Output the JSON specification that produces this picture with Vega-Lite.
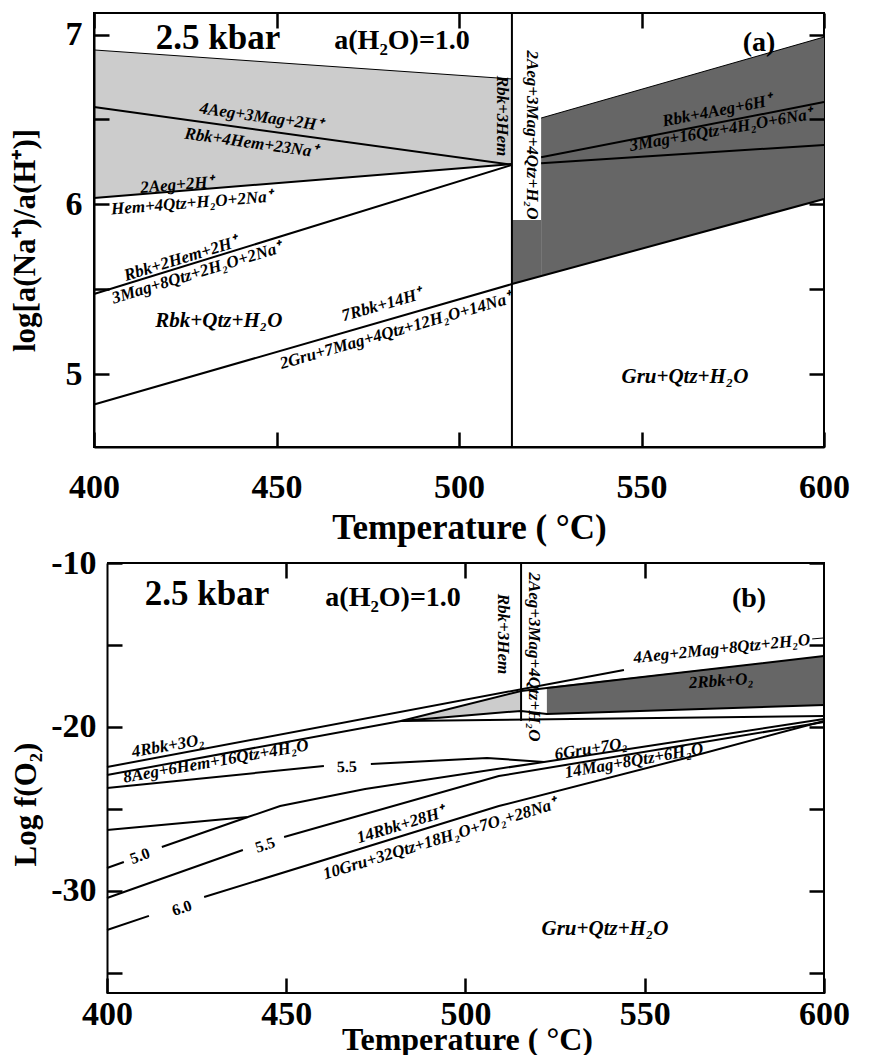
{
  "$schema": "https://vega.github.io/schema/vega-lite/v6.json",
  "background": "white",
  "padding": {"left": 8, "top": 8, "right": 10, "bottom": 0},
  "columns": 1,
  "align": "all",
  "bounds": "full",
  "spacing": 0,
  "config": {
    "view": {"stroke": "black", "strokeWidth": 2},
    "axis": {"labelFont": "Liberation Serif", "titleFont": "Liberation Serif"},
    "text": {"font": "Liberation Serif"}
  },
  "datasets": {
    "areasA": [
      {"id": "a_light", "cls": "light", "T": 400, "v": 6.909, "v2": 6.037},
      {"id": "a_light", "cls": "light", "T": 514.5, "v": 6.738, "v2": 6.237},
      {"id": "a_strip", "cls": "dark", "T": 514.5, "v": 5.907, "v2": 5.53},
      {"id": "a_strip", "cls": "dark", "T": 522.5, "v": 5.907, "v2": 5.577},
      {"id": "a_dark", "cls": "dark", "T": 522.5, "v": 6.508, "v2": 5.577},
      {"id": "a_dark", "cls": "dark", "T": 600, "v": 6.985, "v2": 6.031}
    ],
    "linesA": [
      {"id": "top", "cls": "thin", "o": 0, "T": 400, "v": 6.909},
      {"id": "top", "cls": "thin", "o": 1, "T": 514.5, "v": 6.738},
      {"id": "darktop", "cls": "thin", "o": 0, "T": 522.5, "v": 6.508},
      {"id": "darktop", "cls": "thin", "o": 1, "T": 600, "v": 6.985},
      {"id": "aeg4", "cls": "main", "o": 0, "T": 400, "v": 6.573},
      {"id": "aeg4", "cls": "main", "o": 1, "T": 514.5, "v": 6.232},
      {"id": "aeg2", "cls": "main", "o": 0, "T": 400, "v": 6.037},
      {"id": "aeg2", "cls": "main", "o": 1, "T": 514.5, "v": 6.237},
      {"id": "rbk2hem", "cls": "main", "o": 0, "T": 400, "v": 5.471},
      {"id": "rbk2hem", "cls": "main", "o": 1, "T": 514.5, "v": 6.232},
      {"id": "rbk7", "cls": "main", "o": 0, "T": 400, "v": 4.82},
      {"id": "rbk7", "cls": "main", "o": 1, "T": 514.5, "v": 5.53},
      {"id": "rbk7", "cls": "main", "o": 2, "T": 600, "v": 6.031},
      {"id": "lineA", "cls": "main", "o": 0, "T": 522.5, "v": 6.277},
      {"id": "lineA", "cls": "main", "o": 1, "T": 600, "v": 6.602},
      {"id": "lineB", "cls": "main", "o": 0, "T": 522.5, "v": 6.242},
      {"id": "lineB", "cls": "main", "o": 1, "T": 600, "v": 6.349},
      {"id": "vert", "cls": "main", "o": 0, "T": 514.5, "v": 4.57},
      {"id": "vert", "cls": "main", "o": 1, "T": 514.5, "v": 7.1267}
    ],
    "textA": [
      {"kind": "big", "label": "2.5 kbar", "T": 434.0, "v": 6.982, "angle": 0},
      {"kind": "head", "label": "a(H₂O)=1.0", "T": 484.4, "v": 6.962, "angle": 0},
      {"kind": "head", "label": "(a)", "T": 582.2, "v": 6.95, "angle": 0},
      {"kind": "rxn", "label": "Rbk+3Hem", "T": 511.8, "v": 6.52, "angle": 90},
      {"kind": "rxn", "label": "2Aeg+3Mag+4Qtz+H₂O", "T": 520.0, "v": 6.408, "angle": 90},
      {"kind": "rxn", "label": "4Aeg+3Mag+2H⁺", "T": 445.75, "v": 6.514, "angle": 8},
      {"kind": "rxn", "label": "Rbk+4Hem+23Na⁺", "T": 443.0, "v": 6.361, "angle": 8},
      {"kind": "rxn", "label": "2Aeg+2H⁺", "T": 422.7, "v": 6.113, "angle": -4.6},
      {"kind": "rxn", "label": "Hem+4Qtz+H₂O+2Na⁺", "T": 426.8, "v": 6.007, "angle": -4.6},
      {"kind": "rxn", "label": "Rbk+2Hem+2H⁺", "T": 423.8, "v": 5.678, "angle": -17},
      {"kind": "rxn", "label": "3Mag+8Qtz+2H₂O+2Na⁺", "T": 428.2, "v": 5.595, "angle": -17},
      {"kind": "rxn", "label": "7Rbk+14H⁺", "T": 478.9, "v": 5.406, "angle": -16},
      {"kind": "rxn", "label": "2Gru+7Mag+4Qtz+12H₂O+14Na⁺", "T": 482.7, "v": 5.253, "angle": -16},
      {"kind": "rxn", "label": "Rbk+4Aeg+6H⁺", "T": 570.7, "v": 6.549, "angle": -11},
      {"kind": "rxn", "label": "3Mag+16Qtz+4H₂O+6Na⁺", "T": 571.8, "v": 6.437, "angle": -10},
      {"kind": "region", "label": "Rbk+Qtz+H₂O", "T": 434.2, "v": 5.312, "angle": 0},
      {"kind": "region", "label": "Gru+Qtz+H₂O", "T": 561.9, "v": 4.982, "angle": 0}
    ],
    "areasB": [
      {"id": "b_light", "cls": "light", "T": 482.0, "v": -19.63, "v2": -19.63},
      {"id": "b_light", "cls": "light", "T": 515.5, "v": -17.8, "v2": -19.02},
      {"id": "b_dark", "cls": "dark", "T": 522.7, "v": -17.56, "v2": -19.21},
      {"id": "b_dark", "cls": "dark", "T": 600, "v": -15.67, "v2": -18.66}
    ],
    "linesB": [
      {"id": "frame", "cls": "main", "o": 0, "T": 400, "v": -10},
      {"id": "frame", "cls": "main", "o": 1, "T": 600, "v": -10},
      {"id": "frame", "cls": "main", "o": 2, "T": 600, "v": -36.22},
      {"id": "frame", "cls": "main", "o": 3, "T": 400, "v": -36.22},
      {"id": "A1", "cls": "main", "o": 0, "T": 400, "v": -22.44},
      {"id": "A1", "cls": "main", "o": 1, "T": 544.2, "v": -16.52},
      {"id": "L2", "cls": "main", "o": 0, "T": 400, "v": -22.93},
      {"id": "L2", "cls": "main", "o": 1, "T": 482.0, "v": -19.63},
      {"id": "L2", "cls": "main", "o": 2, "T": 515.5, "v": -19.02},
      {"id": "L2", "cls": "main", "o": 3, "T": 522.7, "v": -19.21},
      {"id": "L2", "cls": "main", "o": 4, "T": 600, "v": -18.66},
      {"id": "L3", "cls": "main", "o": 0, "T": 482.0, "v": -19.63},
      {"id": "L3", "cls": "main", "o": 1, "T": 515.5, "v": -17.8},
      {"id": "L3", "cls": "main", "o": 2, "T": 600, "v": -15.67},
      {"id": "L5", "cls": "main", "o": 0, "T": 482.0, "v": -19.63},
      {"id": "L5", "cls": "main", "o": 1, "T": 600, "v": -19.33},
      {"id": "C55u1", "cls": "main", "o": 0, "T": 400, "v": -23.72},
      {"id": "C55u1", "cls": "main", "o": 1, "T": 460.5, "v": -22.38},
      {"id": "C55u2", "cls": "main", "o": 0, "T": 473.6, "v": -22.26},
      {"id": "C55u2", "cls": "main", "o": 1, "T": 506.0, "v": -21.89},
      {"id": "C55u2", "cls": "main", "o": 2, "T": 521.9, "v": -22.13},
      {"id": "G", "cls": "main", "o": 0, "T": 400, "v": -26.28},
      {"id": "G", "cls": "main", "o": 1, "T": 439.3, "v": -25.49},
      {"id": "G", "cls": "main", "o": 2, "T": 448.3, "v": -24.82},
      {"id": "G", "cls": "main", "o": 3, "T": 472.0, "v": -23.78},
      {"id": "G", "cls": "main", "o": 4, "T": 521.9, "v": -22.13},
      {"id": "G", "cls": "main", "o": 5, "T": 600, "v": -19.51},
      {"id": "C50a", "cls": "main", "o": 0, "T": 400, "v": -28.6},
      {"id": "C50a", "cls": "main", "o": 1, "T": 404.7, "v": -28.23},
      {"id": "C50b", "cls": "main", "o": 0, "T": 415.3, "v": -27.32},
      {"id": "C50b", "cls": "main", "o": 1, "T": 439.3, "v": -25.49},
      {"id": "C55La", "cls": "main", "o": 0, "T": 400, "v": -30.43},
      {"id": "C55La", "cls": "main", "o": 1, "T": 437.9, "v": -27.5},
      {"id": "C55Lb", "cls": "main", "o": 0, "T": 449.4, "v": -26.71},
      {"id": "C55Lb", "cls": "main", "o": 1, "T": 509.3, "v": -22.99},
      {"id": "C55Lb", "cls": "main", "o": 2, "T": 600, "v": -19.7},
      {"id": "C60a", "cls": "main", "o": 0, "T": 400, "v": -32.38},
      {"id": "C60a", "cls": "main", "o": 1, "T": 411.7, "v": -31.52},
      {"id": "C60b", "cls": "main", "o": 0, "T": 427.1, "v": -30.37},
      {"id": "C60b", "cls": "main", "o": 1, "T": 509.3, "v": -24.82},
      {"id": "C60b", "cls": "main", "o": 2, "T": 560.4, "v": -21.95},
      {"id": "C60b", "cls": "main", "o": 3, "T": 600, "v": -19.63},
      {"id": "stub", "cls": "thin", "o": 0, "T": 596.7, "v": -14.63},
      {"id": "stub", "cls": "thin", "o": 1, "T": 600, "v": -14.57},
      {"id": "vert", "cls": "main", "o": 0, "T": 515.5, "v": -10},
      {"id": "vert", "cls": "main", "o": 1, "T": 515.5, "v": -19.63}
    ],
    "textB": [
      {"kind": "big", "label": "2.5 kbar", "T": 427.9, "v": -11.89, "angle": 0},
      {"kind": "head", "label": "a(H₂O)=1.0", "T": 479.8, "v": -12.13, "angle": 0},
      {"kind": "head", "label": "(b)", "T": 579.1, "v": -12.2, "angle": 0},
      {"kind": "rxn", "label": "Rbk+3Hem", "T": 510.5, "v": -14.33, "angle": 90},
      {"kind": "rxn", "label": "2Aeg+3Mag+4Qtz+H₂O", "T": 519.1, "v": -15.73, "angle": 90},
      {"kind": "rxn", "label": "4Aeg+2Mag+8Qtz+2H₂O", "T": 571.5, "v": -15.24, "angle": -6},
      {"kind": "rxn", "label": "2Rbk+O₂", "T": 571.3, "v": -17.2, "angle": -4},
      {"kind": "rxn", "label": "4Rbk+3O₂", "T": 417.0, "v": -21.16, "angle": -10},
      {"kind": "rxn", "label": "8Aeg+6Hem+16Qtz+4H₂O", "T": 430.4, "v": -22.1, "angle": -10},
      {"kind": "rxn", "label": "6Gru+7O₂", "T": 535.0, "v": -21.34, "angle": -9},
      {"kind": "rxn", "label": "14Mag+8Qtz+6H₂O", "T": 547.0, "v": -22.07, "angle": -10},
      {"kind": "rxn", "label": "14Rbk+28H⁺", "T": 482.0, "v": -25.98, "angle": -17},
      {"kind": "rxn", "label": "10Gru+32Qtz+18H₂O+7O₂+28Na⁺", "T": 492.9, "v": -26.83, "angle": -17},
      {"kind": "contour", "label": "5.5", "T": 466.9, "v": -22.44, "angle": -2},
      {"kind": "contour", "label": "5.0", "T": 409.2, "v": -27.87, "angle": -20},
      {"kind": "contour", "label": "5.5", "T": 444.1, "v": -27.2, "angle": -18},
      {"kind": "contour", "label": "6.0", "T": 420.9, "v": -31.04, "angle": -18},
      {"kind": "region", "label": "Gru+Qtz+H₂O", "T": 538.9, "v": -32.32, "angle": 0}
    ]
  },
  "concat": [
    {
      "width": 730,
      "height": 434,
      "encoding": {
        "x": {"field": "T", "type": "quantitative", "scale": {"domain": [400, 600], "nice": false, "zero": false}, "axis": null},
        "y": {"field": "v", "type": "quantitative", "scale": {"domain": [4.57, 7.1267], "nice": false, "zero": false}, "axis": null}
      },
      "layer": [
        {
          "data": {"name": "areasA"},
          "mark": {"type": "area", "opacity": 1},
          "encoding": {
            "x": {"field": "T", "type": "quantitative", "scale": {"domain": [400, 600], "nice": false, "zero": false},
              "axis": {"orient": "top", "values": [400, 450, 500, 550, 600], "labels": false, "domain": false, "tickSize": -15, "tickWidth": 2.5, "tickColor": "black", "grid": false, "title": null, "zindex": 1}},
            "y": {"field": "v", "type": "quantitative", "scale": {"domain": [4.57, 7.1267], "nice": false, "zero": false},
              "axis": {"orient": "right", "values": [5, 5.5, 6, 6.5, 7], "labels": false, "domain": false, "tickSize": -15, "tickWidth": 2.5, "tickColor": "black", "grid": false, "title": null, "zindex": 1}},
            "y2": {"field": "v2"},
            "color": {"field": "cls", "type": "nominal", "scale": {"domain": ["light", "dark"], "range": ["#cccccc", "#666666"]}, "legend": null},
            "detail": {"field": "id"}
          }
        },
        {
          "data": {"name": "linesA"},
          "transform": [{"filter": "datum.cls == 'main'"}],
          "mark": {"type": "line", "color": "black", "strokeWidth": 2},
          "encoding": {
            "x": {"field": "T", "type": "quantitative", "scale": {"domain": [400, 600], "nice": false, "zero": false},
              "axis": {"orient": "bottom", "values": [400, 450, 500, 550, 600], "labelExpr": "'' + datum.value", "tickSize": -15, "tickWidth": 2.5, "tickColor": "black", "domain": true, "domainColor": "black", "domainWidth": 2, "labelFontSize": 34, "labelFontWeight": "bold", "labelColor": "black", "labelPadding": 55, "labelBaseline": "middle", "labelFlush": false, "labelOverlap": false, "grid": false, "title": "Temperature ( °C)", "titleFontSize": 35, "titleFontWeight": "bold", "titleColor": "black", "titleX": 375, "titleY": 80, "titleBaseline": "middle", "titleAlign": "center", "titleAngle": 0, "zindex": 1}},
            "y": {"field": "v", "type": "quantitative", "scale": {"domain": [4.57, 7.1267], "nice": false, "zero": false},
              "axis": {"orient": "left", "values": [5, 5.5, 6, 6.5, 7], "labelExpr": "datum.value % 1 === 0 ? '' + datum.value : ''", "tickSize": -15, "tickWidth": 2.5, "tickColor": "black", "domain": true, "domainColor": "black", "domainWidth": 2, "labelFontSize": 34, "labelFontWeight": "bold", "labelColor": "black", "labelPadding": 27, "labelFlush": false, "labelOverlap": false, "grid": false, "title": "log[a(Na⁺)/a(H⁺)]", "titleFontSize": 31, "titleFontWeight": "bold", "titleColor": "black", "titleX": -69, "titleY": 227, "titleBaseline": "middle", "titleAlign": "center", "titleAngle": 270, "zindex": 1}},
            "detail": {"field": "id"},
            "order": {"field": "o", "type": "quantitative"}
          }
        },
        {
          "data": {"name": "linesA"},
          "transform": [{"filter": "datum.cls == 'thin'"}],
          "mark": {"type": "line", "color": "black", "strokeWidth": 1},
          "encoding": {"detail": {"field": "id"}, "order": {"field": "o", "type": "quantitative"}}
        },
        {
          "data": {"name": "textA"},
          "transform": [{"filter": "datum.kind == 'big'"}],
          "mark": {"type": "text", "fontSize": 35, "fontWeight": "bold", "align": "center", "baseline": "middle", "color": "black"},
          "encoding": {"text": {"field": "label", "type": "nominal"}, "angle": {"field": "angle", "type": "quantitative", "scale": null}}
        },
        {
          "data": {"name": "textA"},
          "transform": [{"filter": "datum.kind == 'head'"}],
          "mark": {"type": "text", "fontSize": 28, "fontWeight": "bold", "align": "center", "baseline": "middle", "color": "black"},
          "encoding": {"text": {"field": "label", "type": "nominal"}, "angle": {"field": "angle", "type": "quantitative", "scale": null}}
        },
        {
          "data": {"name": "textA"},
          "transform": [{"filter": "datum.kind == 'rxn'"}],
          "mark": {"type": "text", "fontSize": 17, "fontWeight": "bold", "fontStyle": "italic", "align": "center", "baseline": "middle", "color": "black"},
          "encoding": {"text": {"field": "label", "type": "nominal"}, "angle": {"field": "angle", "type": "quantitative", "scale": null}}
        },
        {
          "data": {"name": "textA"},
          "transform": [{"filter": "datum.kind == 'region'"}],
          "mark": {"type": "text", "fontSize": 21, "fontWeight": "bold", "fontStyle": "italic", "align": "center", "baseline": "middle", "color": "black"},
          "encoding": {"text": {"field": "label", "type": "nominal"}, "angle": {"field": "angle", "type": "quantitative", "scale": null}}
        }
      ],
      "resolve": {"axis": {"x": "independent", "y": "independent"}}
    },
    {
      "width": 730,
      "height": 430,
      "view": {"stroke": null},
      "encoding": {
        "x": {"field": "T", "type": "quantitative", "scale": {"domain": [396.374, 600], "nice": false, "zero": false}, "axis": null},
        "y": {"field": "v", "type": "quantitative", "scale": {"domain": [-36.22, -10], "nice": false, "zero": false}, "axis": null}
      },
      "layer": [
        {
          "data": {"name": "areasB"},
          "mark": {"type": "area", "opacity": 1},
          "encoding": {
            "x": {"field": "T", "type": "quantitative", "scale": {"domain": [396.374, 600], "nice": false, "zero": false},
              "axis": {"orient": "top", "values": [450, 500, 550], "labels": false, "domain": false, "tickSize": -15, "tickWidth": 2.5, "tickColor": "black", "grid": false, "title": null, "zindex": 1}},
            "y": {"field": "v", "type": "quantitative", "scale": {"domain": [-36.22, -10], "nice": false, "zero": false},
              "axis": {"orient": "right", "values": [-35, -30, -25, -20, -15, -10], "labels": false, "domain": false, "tickSize": -15, "tickWidth": 2.5, "tickColor": "black", "grid": false, "title": null, "zindex": 1}},
            "y2": {"field": "v2"},
            "color": {"field": "cls", "type": "nominal", "scale": {"domain": ["light", "dark"], "range": ["#cccccc", "#666666"]}, "legend": null},
            "detail": {"field": "id"}
          }
        },
        {
          "data": {"name": "linesB"},
          "transform": [{"filter": "datum.cls == 'main'"}],
          "mark": {"type": "line", "color": "black", "strokeWidth": 2},
          "encoding": {
            "x": {"field": "T", "type": "quantitative", "scale": {"domain": [396.374, 600], "nice": false, "zero": false},
              "axis": {"orient": "bottom", "values": [400, 450, 500, 550, 600], "labelExpr": "'' + datum.value", "tickSize": -15, "tickWidth": 2.5, "tickColor": "black", "domain": false, "labelFontSize": 34, "labelFontWeight": "bold", "labelColor": "black", "labelPadding": 36, "labelBaseline": "middle", "labelFlush": false, "labelOverlap": false, "grid": false, "title": "Temperature ( °C)", "titleFontSize": 32, "titleFontWeight": "bold", "titleColor": "black", "titleX": 373, "titleY": 46, "titleBaseline": "middle", "titleAlign": "center", "titleAngle": 0, "zindex": 1}},
            "y": {"field": "v", "type": "quantitative", "scale": {"domain": [-36.22, -10], "nice": false, "zero": false},
              "axis": {"orient": "left", "offset": -13, "values": [-35, -30, -25, -20, -15, -10], "labelExpr": "datum.value % 10 === 0 ? '' + datum.value : ''", "tickSize": -15, "tickWidth": 2.5, "tickColor": "black", "domain": true, "domainColor": "black", "domainWidth": 2, "labelFontSize": 34, "labelFontWeight": "bold", "labelColor": "black", "labelPadding": 26, "labelFlush": false, "labelOverlap": false, "grid": false, "title": "Log f(O₂)", "titleFontSize": 31, "titleFontWeight": "bold", "titleColor": "black", "titleX": -81, "titleY": 241, "titleBaseline": "middle", "titleAlign": "center", "titleAngle": 270, "zindex": 1}},
            "detail": {"field": "id"},
            "order": {"field": "o", "type": "quantitative"}
          }
        },
        {
          "data": {"name": "linesB"},
          "transform": [{"filter": "datum.cls == 'thin'"}],
          "mark": {"type": "line", "color": "black", "strokeWidth": 1},
          "encoding": {"detail": {"field": "id"}, "order": {"field": "o", "type": "quantitative"}}
        },
        {
          "data": {"name": "textB"},
          "transform": [{"filter": "datum.kind == 'big'"}],
          "mark": {"type": "text", "fontSize": 35, "fontWeight": "bold", "align": "center", "baseline": "middle", "color": "black"},
          "encoding": {"text": {"field": "label", "type": "nominal"}, "angle": {"field": "angle", "type": "quantitative", "scale": null}}
        },
        {
          "data": {"name": "textB"},
          "transform": [{"filter": "datum.kind == 'head'"}],
          "mark": {"type": "text", "fontSize": 28, "fontWeight": "bold", "align": "center", "baseline": "middle", "color": "black"},
          "encoding": {"text": {"field": "label", "type": "nominal"}, "angle": {"field": "angle", "type": "quantitative", "scale": null}}
        },
        {
          "data": {"name": "textB"},
          "transform": [{"filter": "datum.kind == 'rxn'"}],
          "mark": {"type": "text", "fontSize": 17, "fontWeight": "bold", "fontStyle": "italic", "align": "center", "baseline": "middle", "color": "black"},
          "encoding": {"text": {"field": "label", "type": "nominal"}, "angle": {"field": "angle", "type": "quantitative", "scale": null}}
        },
        {
          "data": {"name": "textB"},
          "transform": [{"filter": "datum.kind == 'contour'"}],
          "mark": {"type": "text", "fontSize": 16, "fontWeight": "bold", "align": "center", "baseline": "middle", "color": "black"},
          "encoding": {"text": {"field": "label", "type": "nominal"}, "angle": {"field": "angle", "type": "quantitative", "scale": null}}
        },
        {
          "data": {"name": "textB"},
          "transform": [{"filter": "datum.kind == 'region'"}],
          "mark": {"type": "text", "fontSize": 21, "fontWeight": "bold", "fontStyle": "italic", "align": "center", "baseline": "middle", "color": "black"},
          "encoding": {"text": {"field": "label", "type": "nominal"}, "angle": {"field": "angle", "type": "quantitative", "scale": null}}
        }
      ],
      "resolve": {"axis": {"x": "independent", "y": "independent"}}
    }
  ]
}
